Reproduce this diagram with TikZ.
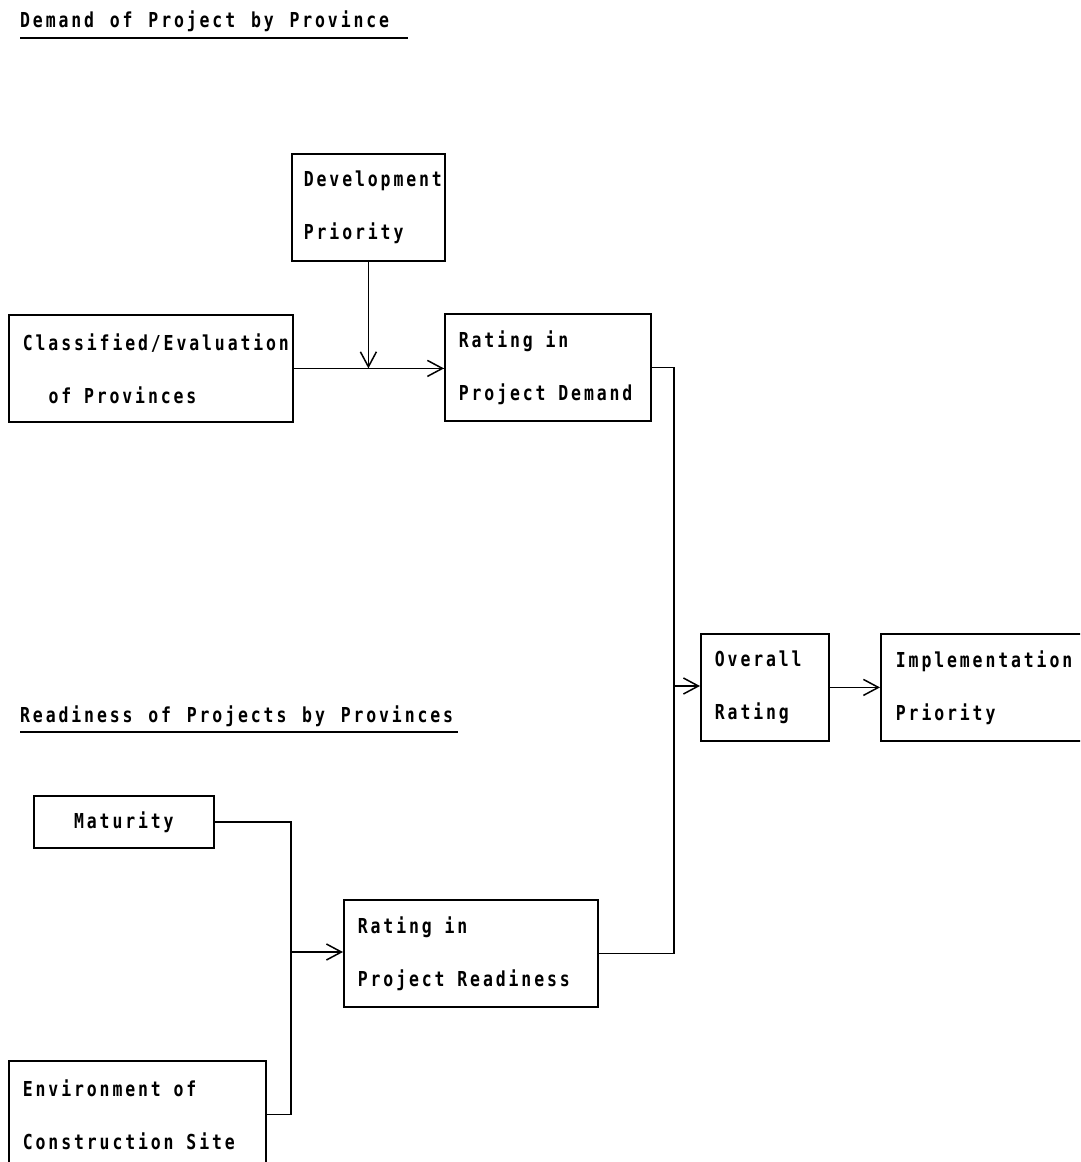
\documentclass[tikz,border=0pt]{standalone}
\usepackage{fontspec}
\usetikzlibrary{arrows.meta}
% condensed, widely tracked monospace lettering; a word gap is one full cell
\newfontfamily\typewr[FakeStretch=0.8,LetterSpace=14]{DejaVu Sans Mono}
\newcommand{\lettering}{\typewr\bfseries\fontsize{20.6}{53}\selectfont}
\newcommand{\wgap}{\hspace*{12.8pt}\ignorespaces}
\newcommand{\tgap}{\hspace*{15.8pt}\ignorespaces}
\tikzset{
  box/.style={draw, line width=1.8pt, anchor=north west, inner xsep=14pt,
    inner ysep=0pt, minimum height=107pt, align=left, font=\lettering},
  title/.style={anchor=base west, inner sep=0pt, font=\lettering},
  link/.style={line width=1.6pt},
  arr/.style={link, -{Straight Barb[length=15pt,width=16pt,line width=1.5pt]}},
}
\begin{document}
\begin{tikzpicture}[x=1pt,y=-1pt]
\useasboundingbox (0,0) rectangle (1080,1162);
\clip (0,0) rectangle (1080,1162);

% section headings
\node[title] (t1) at (20,27) {Demand\tgap of\tgap Project\tgap by\tgap Province};
\draw[line width=1.4pt] (20,38) -- (408,38);
\node[title] (t2) at (20,722) {Readiness\tgap of\tgap Projects\tgap by\tgap Provinces};
\draw[line width=1.4pt] (20,732) -- (458,732);

% demand branch
\node[box, inner xsep=12pt, text width=129pt] (dev) at (291,153) {Development\\Priority};
\node[box, text width=256pt] (cls) at (8,314) {Classified/Evaluation\\\hspace*{25.6pt}of\wgap Provinces};
\node[box, text width=178pt] (rpd) at (444,313) {Rating\wgap in\\Project\wgap Demand};

% overall result
\node[box, text width=100pt] (ovr) at (700,633) {Overall\\Rating};
\node[box, inner xsep=15pt, text width=250pt] (imp) at (880,633) {Implementation\\Priority};

% readiness branch
\node[box, align=center, minimum height=52pt, text width=152pt] (mat) at (33,795) {Maturity};
\node[box, text width=226pt] (rpr) at (343,899) {Rating\wgap in\\Project\wgap Readiness};
\node[box, text width=229pt] (env) at (8,1060) {Environment\wgap of\\Construction\wgap Site};

% connectors
\coordinate (j1) at (dev.south |- cls.east);
\draw[link] (cls.east) -- (j1 -| rpd.west);
\draw[arr] (dev.south) -- (j1);
\draw[arr] (j1) -- (j1 -| rpd.west);

\coordinate (j2) at (291,952);
\draw[link] (mat.east) -| (j2);
\draw[link] (env.east) -| (j2);
\draw[arr] (j2) -- (j2 -| rpr.west);

\coordinate (bus) at (674,686);
\draw[link] (rpd.east) -| (bus);
\draw[link] (rpr.east) -| (bus);
\draw[arr] (bus) -- (bus -| ovr.west);
\draw[arr] (ovr.east) -- (imp.west);
\end{tikzpicture}
\end{document}
